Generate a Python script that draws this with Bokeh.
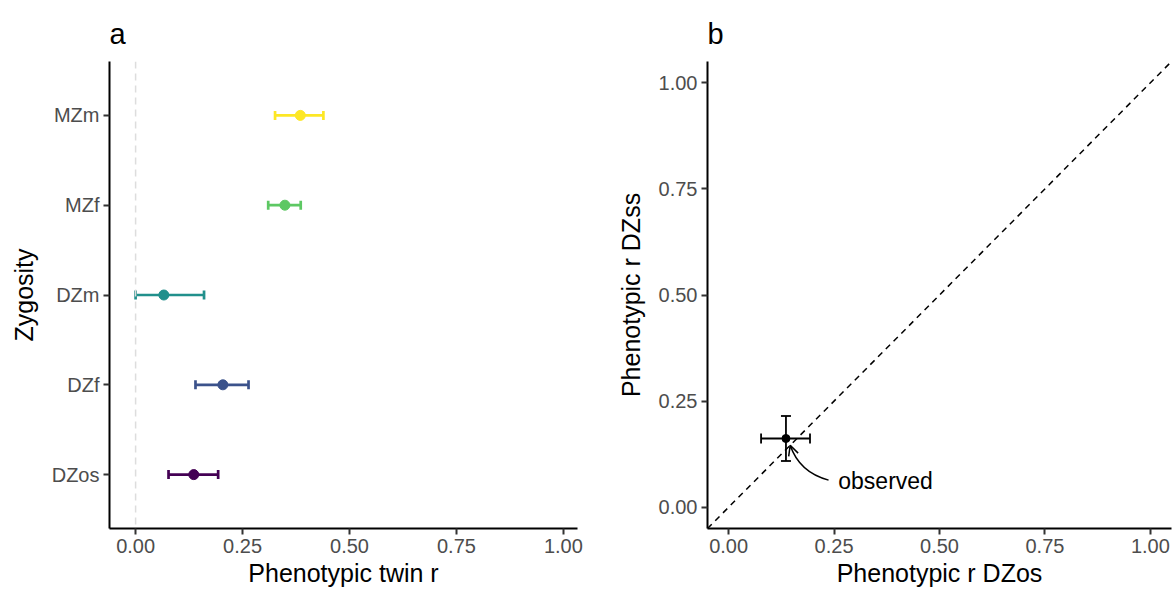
from bokeh.plotting import figure
from bokeh.layouts import row
from bokeh.models import (FactorRange, Range1d, Span, Slope, Whisker, TeeHead, ColumnDataSource,
                          FixedTicker, NumeralTickFormatter, Arrow, OpenHead)
from bokeh.core.properties import value
from bokeh.embed import file_html
from bokeh.resources import INLINE

# ---------------- data ----------------
zygosity = ["DZos", "DZf", "DZm", "MZf", "MZm"]
twin_r = [0.136, 0.204, 0.066, 0.349, 0.385]
twin_lo = [0.077, 0.140, 0.000, 0.310, 0.326]
twin_hi = [0.193, 0.264, 0.160, 0.386, 0.439]
colors = ["#440154", "#3B528B", "#21908C", "#5DC863", "#FDE725"]

obs_dzos = [0.136]
obs_dzos_lo = [0.077]
obs_dzos_hi = [0.193]
obs_dzss = [0.162]
obs_dzss_lo = [0.109]
obs_dzss_hi = [0.215]

x_ticks = [0.0, 0.25, 0.5, 0.75, 1.0]
annot_text = ["observed"]
annot_xy = (0.26, 0.061)
curve = dict(x0=0.237, y0=0.064, cx=0.168, cy=0.082, x1=0.146, y1=0.146)

FONT = "Liberation Sans"
TICK_PX = "20px"
TITLE_PX = "25px"


def style(p, title):
    p.title.text = title
    p.title.text_font = FONT
    p.title.text_font_size = "29px"
    p.title.text_font_style = "normal"
    p.title.text_color = "black"
    p.title.align = "left"
    p.title.offset = 0
    p.title.standoff = 24
    p.outline_line_color = None
    p.xgrid.visible = False
    p.ygrid.visible = False
    for ax in (p.xaxis[0], p.yaxis[0]):
        ax.axis_line_color = "black"
        ax.axis_line_width = 2
        ax.major_tick_line_color = "#333333"
        ax.major_tick_line_width = 2
        ax.major_tick_out = 6
        ax.major_tick_in = 0
        ax.minor_tick_line_color = None
        ax.major_label_text_font = FONT
        ax.major_label_text_font_size = TICK_PX
        ax.major_label_text_color = "#4D4D4D"
        ax.major_label_standoff = 4
        ax.axis_label_text_font = FONT
        ax.axis_label_text_font_size = TITLE_PX
        ax.axis_label_text_font_style = "normal"
        ax.axis_label_text_color = "black"
        ax.axis_label_standoff = 3
    p.yaxis[0].axis_label_standoff = 11


# ---------------- panel a ----------------
pa = figure(width=605, height=592, output_backend="svg", toolbar_location=None,
            x_range=Range1d(-0.061, 1.033),
            y_range=FactorRange(factors=zygosity, range_padding=0.1, range_padding_units="absolute"),
            min_border_left=109, min_border_right=28, min_border_top=61, min_border_bottom=64)
style(pa, "a")
pa.xaxis.axis_label = "Phenotypic twin r"
pa.yaxis.axis_label = "Zygosity"
pa.xaxis.ticker = FixedTicker(ticks=x_ticks)
pa.xaxis.formatter = NumeralTickFormatter(format="0.00")

pa.add_layout(Span(location=0, dimension="height", line_color="#DDDDDD",
                   line_width=1.5, line_dash="7 5"))

for z, r, lo, hi, c in zip(zygosity, twin_r, twin_lo, twin_hi, colors):
    src = ColumnDataSource(dict(y=[z], x=[r], lo=[lo], hi=[hi]))
    pa.add_layout(Whisker(base="y", lower="lo", upper="hi", dimension="width", source=src,
                          line_color=c, line_width=2.7,
                          lower_head=TeeHead(size=9, line_color=c, line_width=2.7),
                          upper_head=TeeHead(size=9, line_color=c, line_width=2.7)))
    pa.scatter("x", "y", source=src, size=10, color=c)

# ---------------- panel b ----------------
pb = figure(width=569, height=592, output_backend="svg", toolbar_location=None,
            x_range=Range1d(-0.05, 1.05), y_range=Range1d(-0.05, 1.05),
            min_border_left=102, min_border_right=3, min_border_top=61, min_border_bottom=64)
style(pb, "b")
pb.xaxis.axis_label = "Phenotypic r DZos"
pb.yaxis.axis_label = "Phenotypic r DZss"
for ax in (pb.xaxis[0], pb.yaxis[0]):
    ax.ticker = FixedTicker(ticks=x_ticks)
    ax.formatter = NumeralTickFormatter(format="0.00")

pb.add_layout(Slope(gradient=1, y_intercept=0, line_color="black", line_width=1.5, line_dash="6 5"))

srcb = ColumnDataSource(dict(x=obs_dzos, y=obs_dzss, xlo=obs_dzos_lo, xhi=obs_dzos_hi,
                             ylo=obs_dzss_lo, yhi=obs_dzss_hi))
pb.add_layout(Whisker(base="y", lower="xlo", upper="xhi", dimension="width", source=srcb,
                      line_color="black", line_width=1.8,
                      lower_head=TeeHead(size=10, line_color="black", line_width=1.8),
                      upper_head=TeeHead(size=10, line_color="black", line_width=1.8)))
pb.add_layout(Whisker(base="x", lower="ylo", upper="yhi", dimension="height", source=srcb,
                      line_color="black", line_width=1.8,
                      lower_head=TeeHead(size=10, line_color="black", line_width=1.8),
                      upper_head=TeeHead(size=10, line_color="black", line_width=1.8)))
pb.scatter("x", "y", source=srcb, size=8, color="black")

pb.quadratic(x0=[curve["x0"]], y0=[curve["y0"]], x1=[curve["x1"]], y1=[curve["y1"]],
             cx=[curve["cx"]], cy=[curve["cy"]], line_color="black", line_width=1.5)
dx = curve["x1"] - curve["cx"]
dy = curve["y1"] - curve["cy"]
pb.add_layout(Arrow(end=OpenHead(size=10, line_color="black", line_width=1.5),
                    x_start=curve["x1"] - 0.15 * dx, y_start=curve["y1"] - 0.15 * dy,
                    x_end=curve["x1"], y_end=curve["y1"], line_color="black", line_width=1.5))
pb.text(x=[annot_xy[0]], y=[annot_xy[1]], text=annot_text, text_font=value(FONT),
        text_font_size="23px", text_baseline="middle", text_align="left", text_color="black")

layout = row(pa, pb)
open("out.html", "w").write(file_html(layout, INLINE))
